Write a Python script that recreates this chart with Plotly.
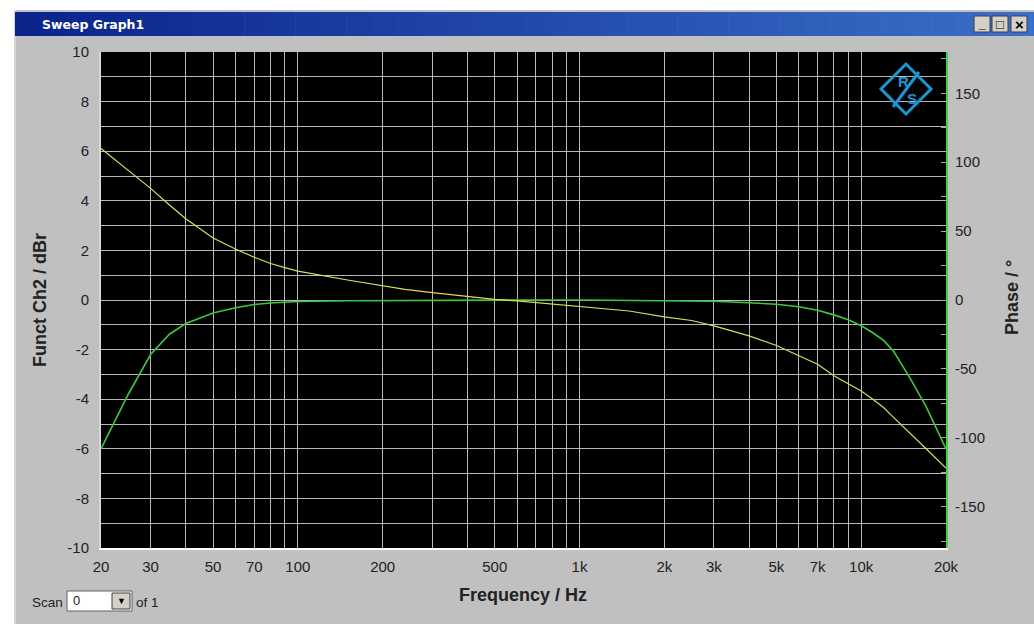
import math
import plotly.graph_objects as go

freq = [20, 25, 30, 35, 40, 50, 60, 70, 80, 90, 100, 150, 200, 240, 300, 400, 500, 600, 700,
        1000, 1500, 2000, 2500, 3000, 4000, 5000, 6000, 7000, 8000, 9000, 10000,
        11000, 12000, 13000, 15000, 17000, 20000]
level_db = [-6.0, -3.8, -2.2, -1.38, -0.95, -0.52, -0.31, -0.18, -0.12, -0.08, -0.06, -0.03, -0.02, -0.01, -0.01, 0, 0, 0, 0,
            0, -0.01, -0.02, -0.03, -0.05, -0.11, -0.17, -0.27, -0.41, -0.6, -0.8, -1.04,
            -1.32, -1.63, -2.05, -3.2, -4.3, -6.0]
phase_deg = [110, 94, 81, 69, 59, 45, 37, 31, 26.5, 23.5, 21, 14.5, 10, 7.7, 5.3, 2.4, 0.5, -0.7, -1.9,
             -4.8, -8, -12.3, -14.9, -18.8, -26, -33, -40.6, -46.6, -55, -61, -66,
             -72, -78, -85, -97, -108, -122]

x_grid = [20, 30, 40, 50, 60, 70, 80, 90, 100, 200, 300, 400, 500, 600, 700, 800, 900,
          1000, 2000, 3000, 4000, 5000, 6000, 7000, 8000, 9000, 10000, 20000]
x_labels = {20: "20", 30: "30", 50: "50", 70: "70", 100: "100", 200: "200", 500: "500",
            1000: "1k", 2000: "2k", 3000: "3k", 5000: "5k", 7000: "7k", 10000: "10k", 20000: "20k"}
y_ticks = list(range(-10, 11))
y2_ticks = list(range(-175, 176, 25))

# plot box in page pixels (body margin removed by post_script below)
FW, FH = 1034, 624
L, R, T, B = 101, 946, 52, 548
W, H = R - L, B - T
def px(x): return (x - L) / W
def py(y): return (B - y) / H

fig = go.Figure()
fig.add_trace(go.Scatter(x=freq, y=phase_deg, yaxis="y2", mode="lines",
                         line=dict(color="#dcdc5c", width=1.2), hoverinfo="skip"))
fig.add_trace(go.Scatter(x=freq, y=level_db, mode="lines",
                         line=dict(color="#3cc83c", width=1.6), hoverinfo="skip"))

tickfont = dict(family="Liberation Sans, Arial", size=15, color="#222")
fig.update_layout(
    width=FW, height=FH,
    margin=dict(l=L, r=FW - R, t=T, b=FH - B),
    paper_bgcolor="#c0c0c0", plot_bgcolor="black",
    showlegend=False,
    xaxis=dict(type="log", range=[math.log10(20), math.log10(20000)],
               tickvals=x_grid, ticktext=[x_labels.get(v, "") for v in x_grid],
               showgrid=True, gridcolor="#b8b8b8", gridwidth=1,
               showline=True, linecolor="white", linewidth=2, ticks="",
               ticklabelstandoff=4, tickfont=tickfont, zeroline=False),
    yaxis=dict(range=[-10, 10], tickvals=y_ticks,
               ticktext=[str(v) if v % 2 == 0 else "" for v in y_ticks],
               showgrid=True, gridcolor="#b8b8b8", gridwidth=1,
               showline=True, linecolor="#d8d8d8", linewidth=2, ticks="",
               ticklabelstandoff=7, tickfont=tickfont, zeroline=False),
    yaxis2=dict(range=[-180, 180], overlaying="y", side="right", tickvals=y2_ticks,
                ticktext=[str(v) if v % 50 == 0 else "" for v in y2_ticks],
                showgrid=False, zeroline=False, ticks="inside", ticklen=5,
                tickcolor="#aaaaaa", showline=True, linecolor="#44d044", linewidth=2,
                ticklabelstandoff=4, tickfont=tickfont),
)

shapes = []
# white outside the window
shapes.append(dict(type="rect", xref="paper", yref="paper", x0=px(0), x1=px(14), y0=py(640), y1=py(0),
                   fillcolor="white", line_width=0))
shapes.append(dict(type="rect", xref="paper", yref="paper", x0=px(0), x1=px(1040), y0=py(10), y1=py(0),
                   fillcolor="white", line_width=0))
shapes.append(dict(type="line", xref="paper", yref="paper", x0=px(15), x1=px(15), y0=py(640), y1=py(10),
                   line=dict(color="#e8e8e8", width=1)))
# title bar gradient
c0, c1 = (10, 36, 140), (58, 110, 200)
n = 40
for i in range(n):
    t = i / (n - 1)
    col = "rgb(%d,%d,%d)" % tuple(round(a + (b - a) * t) for a, b in zip(c0, c1))
    x0 = 15 + (1034 - 15) * i / n
    x1 = 15 + (1034 - 15) * (i + 1) / n + 0.5
    shapes.append(dict(type="rect", xref="paper", yref="paper", x0=px(x0), x1=px(x1),
                       y0=py(36), y1=py(12), fillcolor=col, line_width=0))
# window buttons
for bx in [974, 992, 1011]:
    shapes.append(dict(type="rect", xref="paper", yref="paper", x0=px(bx), x1=px(bx + 16),
                       y0=py(32), y1=py(16), fillcolor="#d4d0c8", line=dict(color="#404040", width=1)))
# R&S logo
shapes.append(dict(type="path", xref="paper", yref="paper",
                   path="M %f,%f L %f,%f L %f,%f L %f,%f Z" % (px(881), py(89), px(906), py(64),
                                                               px(931), py(89), px(906), py(114)),
                   line=dict(color="#1a96d2", width=3)))
shapes.append(dict(type="line", xref="paper", yref="paper", x0=px(893), y0=py(107), x1=px(919), y1=py(72),
                   line=dict(color="#1a96d2", width=3)))
# scan box
shapes.append(dict(type="rect", xref="paper", yref="paper", x0=px(67), x1=px(132), y0=py(611), y1=py(591),
                   fillcolor="white", line=dict(color="#606060", width=1)))
shapes.append(dict(type="rect", xref="paper", yref="paper", x0=px(112), x1=px(130), y0=py(609), y1=py(593),
                   fillcolor="#d4d0c8", line=dict(color="#404040", width=1)))
fig.update_layout(shapes=shapes)

def ann(x, y, text, size=13, color="#222", bold=False, xanchor="center", angle=0, family="Liberation Sans, Arial"):
    if bold:
        text = "<b>%s</b>" % text
    fig.add_annotation(xref="paper", yref="paper", x=px(x), y=py(y), text=text, showarrow=False,
                       xanchor=xanchor, yanchor="middle", textangle=angle,
                       font=dict(family=family, size=size, color=color))

ann(40, 24, "Sweep Graph1", size=12.5, color="white", bold=True, xanchor="left", family="DejaVu Sans, Verdana")
ann(982, 24, "_", size=12, color="black", bold=True)
ann(1000, 24, "□", size=13, color="black", bold=True)
ann(1019, 24, "×", size=15, color="black", bold=True)
ann(40, 300, "Funct Ch2 / dBr", size=18, bold=True, angle=-90)
ann(1012, 297, "Phase / °", size=18, bold=True, angle=-90)
ann(523, 595, "Frequency / Hz", size=18, bold=True)
ann(30, 602, "Scan", size=13.5, xanchor="left")
ann(71, 600, "0", size=13, xanchor="left")
ann(121, 601, "▼", size=9, color="black")
ann(134, 602, "of 1", size=13.5, xanchor="left")
ann(903, 82, "R", size=15, color="#1a96d2", bold=True)
ann(912, 98, "S", size=15, color="#1a96d2", bold=True)

fig.write_html("out.html", config={"displayModeBar": False},
               post_script="document.body.style.margin='0';document.body.style.overflow='hidden';")
